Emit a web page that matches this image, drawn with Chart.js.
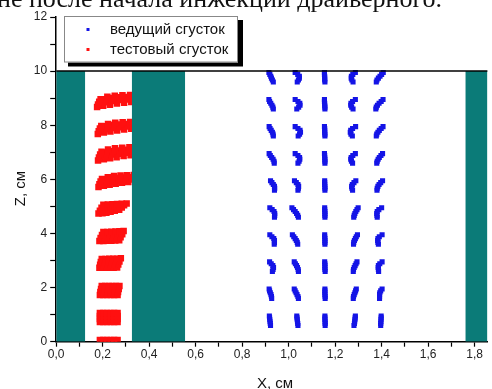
<!DOCTYPE html>
<html>
<head>
<meta charset="utf-8">
<script src="https://cdn.jsdelivr.net/npm/chart.js@4.4.1/dist/chart.umd.min.js"></script>
<style>
  html, body { margin: 0; padding: 0; background: #fff; overflow: hidden; }
  #wrap { position: relative; width: 492px; height: 389px; overflow: hidden; }
  #wrap canvas { position: absolute; left: 0; top: 0; }
  #caption {
    position: absolute; left: -3px; top: -14.5px;
    font-family: "Liberation Serif", "DejaVu Serif", serif;
    font-size: 26px; line-height: 26px; white-space: nowrap; color: #111;
  }
</style>
</head>
<body>
<div id="wrap">
  <canvas id="chart" width="492" height="389"></canvas>
  <div id="caption">не после начала инжекции драйверного.</div>
</div>
<script>
// Wall regions (x ranges, cm) and their height
const wallRanges = [[0, 0.125], [0.325, 0.555], [1.76, 1.95]];
const wallHeight = 10;
const topBoundary = 10;

// Leading bunch: 5 columns of particle streaks at z-levels 1..10
const leadLevels = [1, 2, 3, 4, 5, 6, 7, 8, 9, 10];
const leadDz = [-0.05, -0.12, -0.19, -0.26, -0.33, -0.40];
const leadCol1 = [
  [0.917, 0.918, 0.919, 0.920, 0.921, 0.922],
  [0.916, 0.918, 0.921, 0.924, 0.926, 0.927],
  [0.918, 0.925, 0.932, 0.935, 0.933, 0.930],
  [0.919, 0.928, 0.936, 0.939, 0.939, 0.938],
  [0.919, 0.929, 0.937, 0.940, 0.940, 0.939],
  [0.922, 0.928, 0.934, 0.939, 0.940, 0.939],
  [0.916, 0.921, 0.927, 0.933, 0.937, 0.938],
  [0.916, 0.920, 0.925, 0.930, 0.933, 0.934],
  [0.915, 0.918, 0.923, 0.928, 0.932, 0.934],
  [0.915, 0.919, 0.923, 0.926, 0.930, 0.934]
];
const leadCol2 = [
  [1.035, 1.036, 1.037, 1.038, 1.039, 1.040],
  [1.024, 1.028, 1.032, 1.036, 1.040, 1.042],
  [1.024, 1.029, 1.034, 1.038, 1.041, 1.042],
  [1.016, 1.022, 1.028, 1.033, 1.037, 1.039],
  [1.014, 1.021, 1.028, 1.034, 1.039, 1.042],
  [1.025, 1.033, 1.040, 1.043, 1.042, 1.040],
  [1.028, 1.040, 1.047, 1.048, 1.045, 1.040],
  [1.028, 1.040, 1.049, 1.051, 1.047, 1.041],
  [1.028, 1.040, 1.048, 1.049, 1.043, 1.035],
  [1.028, 1.039, 1.046, 1.046, 1.042, 1.037]
];
const leadCol3 = [
  [1.156, 1.156, 1.156, 1.157, 1.157, 1.157],
  [1.156, 1.156, 1.156, 1.156, 1.157, 1.157],
  [1.155, 1.156, 1.156, 1.156, 1.156, 1.157],
  [1.155, 1.155, 1.156, 1.156, 1.156, 1.156],
  [1.155, 1.155, 1.156, 1.156, 1.156, 1.156],
  [1.155, 1.155, 1.155, 1.156, 1.156, 1.156],
  [1.154, 1.155, 1.155, 1.156, 1.156, 1.156],
  [1.154, 1.155, 1.155, 1.155, 1.156, 1.156],
  [1.154, 1.154, 1.155, 1.155, 1.156, 1.156],
  [1.154, 1.154, 1.155, 1.155, 1.155, 1.156]
];
const leadCol4 = [
  [1.287, 1.286, 1.285, 1.284, 1.283, 1.281],
  [1.291, 1.288, 1.285, 1.282, 1.279, 1.278],
  [1.294, 1.290, 1.286, 1.282, 1.279, 1.278],
  [1.296, 1.291, 1.287, 1.283, 1.280, 1.279],
  [1.299, 1.294, 1.289, 1.285, 1.282, 1.280],
  [1.289, 1.281, 1.274, 1.271, 1.272, 1.275],
  [1.287, 1.276, 1.269, 1.267, 1.270, 1.275],
  [1.288, 1.275, 1.267, 1.265, 1.268, 1.274],
  [1.287, 1.275, 1.268, 1.267, 1.271, 1.277],
  [1.287, 1.276, 1.270, 1.269, 1.272, 1.277]
];
const leadCol5 = [
  [1.398, 1.398, 1.397, 1.397, 1.396, 1.396],
  [1.402, 1.396, 1.392, 1.391, 1.391, 1.391],
  [1.402, 1.392, 1.386, 1.385, 1.386, 1.387],
  [1.402, 1.390, 1.384, 1.383, 1.384, 1.386],
  [1.400, 1.388, 1.381, 1.379, 1.380, 1.381],
  [1.404, 1.396, 1.389, 1.384, 1.381, 1.380],
  [1.404, 1.397, 1.390, 1.385, 1.381, 1.379],
  [1.406, 1.398, 1.390, 1.384, 1.379, 1.377],
  [1.406, 1.398, 1.389, 1.382, 1.377, 1.375],
  [1.407, 1.400, 1.393, 1.386, 1.380, 1.377]
];

// Test bunch: particle groups at z-levels 0..9, [x, z] in cm
const testL0 = [[0.188,0.06],[0.203,0.06],[0.218,0.06],[0.234,0.06],[0.249,0.06],[0.264,0.06]];
const testL1 = [
  [0.188,0.73],[0.203,0.73],[0.218,0.73],[0.234,0.73],[0.249,0.73],[0.264,0.73],
  [0.188,0.84],[0.203,0.84],[0.218,0.84],[0.234,0.84],[0.249,0.84],[0.264,0.84],
  [0.188,0.95],[0.203,0.95],[0.218,0.95],[0.234,0.95],[0.249,0.95],[0.264,0.95],
  [0.188,1.06],[0.203,1.06],[0.218,1.06],[0.234,1.06],[0.249,1.06],[0.264,1.06]
];
const testL2 = [
  [0.188,1.73],[0.203,1.73],[0.218,1.73],[0.234,1.73],[0.249,1.73],[0.264,1.73],
  [0.190,1.84],[0.205,1.84],[0.220,1.84],[0.236,1.84],[0.251,1.84],[0.266,1.84],
  [0.193,1.95],[0.208,1.95],[0.223,1.95],[0.239,1.95],[0.254,1.95],[0.269,1.95],
  [0.196,2.06],[0.211,2.06],[0.226,2.06],[0.242,2.06],[0.257,2.06],[0.272,2.06]
];
const testL3 = [
  [0.186,2.73],[0.201,2.73],[0.216,2.73],[0.232,2.73],[0.247,2.73],[0.262,2.74],
  [0.189,2.84],[0.205,2.84],[0.220,2.84],[0.236,2.84],[0.251,2.85],[0.267,2.85],
  [0.192,2.95],[0.208,2.95],[0.224,2.95],[0.240,2.95],[0.256,2.96],[0.272,2.96],
  [0.196,3.06],[0.212,3.06],[0.228,3.07],[0.245,3.07],[0.261,3.07],[0.278,3.08]
];
const testL4 = [
  [0.186,3.72],[0.203,3.72],[0.220,3.73],[0.237,3.73],[0.254,3.74],[0.271,3.75],
  [0.191,3.83],[0.208,3.83],[0.225,3.84],[0.243,3.84],[0.260,3.85],[0.277,3.86],
  [0.197,3.94],[0.214,3.94],[0.231,3.95],[0.249,3.95],[0.266,3.96],[0.284,3.97],
  [0.203,4.05],[0.220,4.05],[0.237,4.06],[0.255,4.07],[0.272,4.08],[0.290,4.09]
];
const testL5 = [
  [0.182,4.74],[0.199,4.75],[0.216,4.77],[0.234,4.80],[0.252,4.84],[0.271,4.88],
  [0.188,4.84],[0.206,4.85],[0.224,4.87],[0.243,4.90],[0.262,4.93],[0.282,4.96],
  [0.195,4.95],[0.214,4.96],[0.233,4.98],[0.252,5.00],[0.272,5.02],[0.292,5.04],
  [0.203,5.06],[0.222,5.07],[0.242,5.08],[0.262,5.09],[0.282,5.10],[0.303,5.11]
];
const testL6 = [
  [0.182,5.72],[0.205,5.76],[0.230,5.80],[0.256,5.84],[0.283,5.87],[0.310,5.90],
  [0.186,5.82],[0.210,5.87],[0.236,5.91],[0.262,5.95],[0.290,5.97],[0.318,5.99],
  [0.191,5.92],[0.216,5.98],[0.242,6.02],[0.270,6.05],[0.298,6.07],[0.326,6.08],
  [0.197,6.01],[0.222,6.08],[0.249,6.12],[0.277,6.14],[0.305,6.15],[0.334,6.16]
];
const testL7 = [
  [0.180,6.70],[0.205,6.74],[0.232,6.78],[0.260,6.82],[0.290,6.86],[0.320,6.89],
  [0.184,6.81],[0.210,6.87],[0.238,6.92],[0.267,6.95],[0.297,6.98],[0.328,7.00],
  [0.189,6.92],[0.216,6.99],[0.245,7.04],[0.275,7.07],[0.305,7.09],[0.336,7.10],
  [0.195,7.02],[0.223,7.10],[0.253,7.15],[0.284,7.17],[0.315,7.19],[0.346,7.20]
];
const testL8 = [
  [0.179,7.68],[0.205,7.73],[0.233,7.77],[0.262,7.81],[0.292,7.84],[0.323,7.87],
  [0.183,7.78],[0.210,7.85],[0.239,7.90],[0.269,7.93],[0.300,7.95],[0.331,7.96],
  [0.188,7.88],[0.216,7.96],[0.246,8.01],[0.277,8.03],[0.308,8.05],[0.340,8.06],
  [0.194,7.97],[0.223,8.05],[0.254,8.09],[0.286,8.11],[0.318,8.12],[0.350,8.12]
];
const testL9 = [
  [0.176,8.67],[0.202,8.72],[0.231,8.76],[0.261,8.80],[0.292,8.83],[0.323,8.86],
  [0.180,8.77],[0.207,8.85],[0.237,8.90],[0.268,8.93],[0.300,8.95],[0.332,8.96],
  [0.185,8.87],[0.213,8.96],[0.244,9.01],[0.276,9.03],[0.308,9.04],[0.341,9.05],
  [0.191,8.96],[0.220,9.05],[0.252,9.09],[0.285,9.11],[0.318,9.12],[0.351,9.12]
];

// Tick labels use a decimal comma
const fmtTick = v => v.toFixed(1).replace('.', ',');

const leadPoints = [];
[leadCol1, leadCol2, leadCol3, leadCol4, leadCol5].forEach(col => {
  col.forEach((xs, i) => xs.forEach((x, j) => leadPoints.push({ x: x, y: leadLevels[i] + leadDz[j] })));
});
const testPoints = [testL0, testL1, testL2, testL3, testL4, testL5, testL6, testL7, testL8, testL9]
  .flat().map(p => ({ x: p[0], y: p[1] }));

const TEAL = '#0b7b78';
const LEAD = '#1414e6';
const TEST = '#ff1010';

const wallSets = wallRanges.map((r, i) => ({
  type: 'line', label: 'wall' + i,
  data: [{ x: r[0], y: wallHeight }, { x: r[1], y: wallHeight }],
  fill: 'origin', backgroundColor: TEAL, borderColor: TEAL, borderWidth: 0,
  pointRadius: 0
}));

// Legend box drawn inside the plot, with a drop shadow
const boxLegend = {
  id: 'boxLegend',
  afterDraw(chart) {
    const ctx = chart.ctx;
    const items = chart.data.datasets.filter(d => d.inLegend);
    ctx.save();
    ctx.fillStyle = '#000';
    ctx.fillRect(68, 20, 175, 46.5);
    ctx.fillStyle = '#fff';
    ctx.fillRect(64, 16, 174, 46.5);
    ctx.strokeStyle = '#888';
    ctx.lineWidth = 1;
    ctx.strokeRect(64.5, 16.5, 173, 45.5);
    ctx.font = '15px "Liberation Sans", Arial, sans-serif';
    ctx.textBaseline = 'middle';
    items.forEach((d, i) => {
      const y = 29.5 + i * 20;
      ctx.fillStyle = d.backgroundColor;
      ctx.fillRect(86.5, y - 1.5, 3, 3);
      ctx.fillStyle = '#111';
      ctx.fillText(d.label, 110, y + 0.5);
    });
    ctx.restore();
  }
};

// Axis titles
const axisTitles = {
  id: 'axisTitles',
  afterDraw(chart) {
    const ctx = chart.ctx;
    ctx.save();
    ctx.fillStyle = '#111';
    ctx.font = '15px "Liberation Sans", Arial, sans-serif';
    ctx.textAlign = 'center';
    ctx.textBaseline = 'alphabetic';
    ctx.fillText('X, см', 275, 387.5);
    ctx.translate(25, 188.5);
    ctx.rotate(-Math.PI / 2);
    ctx.fillText('Z, см', 0, 0);
    ctx.restore();
  }
};

new Chart(document.getElementById('chart'), {
  type: 'scatter',
  data: {
    datasets: [
      {
        type: 'line', label: 'top',
        data: [{ x: 0, y: topBoundary }, { x: 2, y: topBoundary }],
        borderColor: '#000', borderWidth: 1.5, pointRadius: 0, fill: false
      },
      ...wallSets,
      {
        label: 'ведущий сгусток', inLegend: true, data: leadPoints,
        pointStyle: 'rect', pointRadius: 3.6, borderWidth: 0,
        backgroundColor: LEAD, borderColor: LEAD
      },
      {
        label: 'тестовый сгусток', inLegend: true, data: testPoints,
        pointStyle: 'rect', pointRadius: 4.6, borderWidth: 0,
        backgroundColor: TEST, borderColor: TEST
      }
    ]
  },
  options: {
    responsive: false,
    animation: false,
    events: [],
    layout: { padding: { top: 17, right: 0, left: 0, bottom: 0 } },
    plugins: { legend: { display: false }, tooltip: { enabled: false } },
    scales: {
      x: {
        type: 'linear', min: 0, max: 1.855,
        grid: { drawOnChartArea: false, drawTicks: true, tickLength: 5, tickColor: '#000', tickWidth: 1.2 },
        border: { color: '#000', width: 1.5 },
        ticks: {
          stepSize: 0.1, includeBounds: false, autoSkip: false, maxRotation: 0,
          padding: 1, color: '#222',
          font: { family: '"Liberation Sans", Arial, sans-serif', size: 12 },
          callback: v => (Math.round(v * 10) % 2 === 0 ? fmtTick(v) : '')
        },
        afterFit: s => { s.height = 47.3; }
      },
      y: {
        type: 'linear', min: 0, max: 12,
        grid: { drawOnChartArea: false, drawTicks: true, tickLength: 6, tickColor: '#000', tickWidth: 1.2 },
        border: { color: '#000', width: 1.5 },
        ticks: {
          stepSize: 1, autoSkip: false, padding: 3, color: '#222',
          font: { family: '"Liberation Sans", Arial, sans-serif', size: 12 },
          callback: v => (v % 2 === 0 ? String(v) : '')
        },
        afterFit: s => { s.width = 56.2; }
      }
    }
  },
  plugins: [boxLegend, axisTitles]
});
</script>
</body>
</html>
